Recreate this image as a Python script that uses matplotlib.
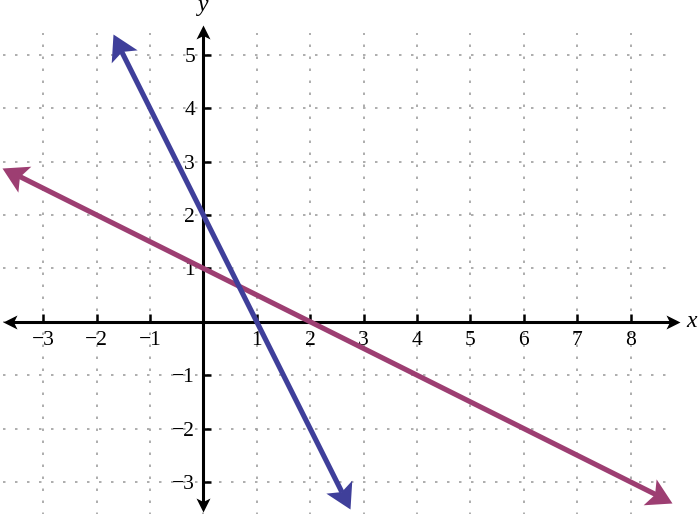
import matplotlib
matplotlib.use("Agg")
import matplotlib.pyplot as plt
from matplotlib.markers import MarkerStyle
from matplotlib.path import Path
from matplotlib.transforms import Affine2D
import numpy as np

# Data
x_ticks = [-3, -2, -1, 1, 2, 3, 4, 5, 6, 7, 8]
y_ticks = [-3, -2, -1, 1, 2, 3, 4, 5]
grid_x = list(range(-3, 9))
grid_y = list(range(-3, 6))
# line 1: y = -2x + 2 (blue), line 2: y = -x/2 + 1 (magenta)
blue_x = [-1.69, 2.75]
blue_slope, blue_icpt = -2.0, 2.0
mag_x = [-3.77, 8.78]
mag_slope, mag_icpt = -0.5, 1.0
xaxis_ends = [-3.76, 8.92]
yaxis_ends = [-3.57, 5.56]

BLUE = "#3f3f9a"
MAG = "#9d3e72"

plt.rcParams['font.family'] = ['Liberation Serif', 'DejaVu Serif']
fig = plt.figure(figsize=(7.0, 5.14), dpi=100)
ax = fig.add_axes([0, 0, 1, 1])
ax.set_xlim(-3.807, 9.30)
ax.set_ylim(-3.60, 6.024)


def make_head(half_w, notch):
    return Path([(0, 0), (-1, half_w), (-notch, 0), (-1, -half_w), (0, 0)],
                [Path.MOVETO, Path.LINETO, Path.LINETO, Path.LINETO, Path.CLOSEPOLY])


def arrow_line(p0, p1, color, lw, head_px, half_w, notch, z):
    """Draw a line from p0 to p1 (data) with stealth heads at both ends."""
    head_path = make_head(half_w, notch)
    d0 = ax.transData.transform(p0)
    d1 = ax.transData.transform(p1)
    v = d1 - d0
    u = v / np.hypot(*v)
    ang = np.degrees(np.arctan2(u[1], u[0]))
    cut = (notch - 0.05) * head_px
    inv = ax.transData.inverted()
    a = inv.transform(d0 + u * cut)
    b = inv.transform(d1 - u * cut)
    ax.plot([a[0], b[0]], [a[1], b[1]], color=color, lw=lw,
            solid_capstyle='butt', zorder=z)
    ms = head_px / 100 * 72 * 2
    for pt, an in [(p1, ang), (p0, ang + 180)]:
        m = MarkerStyle(head_path, transform=Affine2D().rotate_deg(an))
        ax.plot([pt[0]], [pt[1]], marker=m, markersize=ms, color=color,
                markeredgewidth=0, linestyle='none', zorder=z)


# grid
ax.hlines(grid_y, -3.75, 8.7, colors="#a0a0a0", linewidth=1.2,
          linestyles=(0, (1.5, 5.7)), zorder=1)
ax.vlines(grid_x, -3.7, 5.4, colors="#a0a0a0", linewidth=1.2,
          linestyles=(0, (1.5, 5.7)), zorder=1)

# axes
arrow_line((xaxis_ends[0], 0), (xaxis_ends[1], 0), "black", 2.2, 14, 0.5, 0.75, 3)
arrow_line((0, yaxis_ends[0]), (0, yaxis_ends[1]), "black", 2.2, 14, 0.5, 0.75, 3)

for s in ax.spines.values():
    s.set_color("none")
ax.spines['bottom'].set_position(('data', 0))
ax.spines['left'].set_position(('data', 0))

ax.set_xticks(x_ticks)
ax.set_xticklabels([f"\u2212{-v}" if v < 0 else str(v) for v in x_ticks])
ax.set_yticks(y_ticks)
ax.set_yticklabels([f"\u2212{-v}" if v < 0 else str(v) for v in y_ticks])
ax.tick_params(axis='x', direction='in', length=5.8, width=1.8, pad=7,
               labelsize=15.5, top=False, labelfontfamily='Liberation Serif')
ax.tick_params(axis='y', direction='in', length=5.8, width=1.8, pad=6,
               labelsize=15.5, right=False, labelfontfamily='Liberation Serif')
for t in ax.get_xticklabels() + ax.get_yticklabels():
    t.set_zorder(4)

# lines with arrows
for xs, m, b, col in [(mag_x, mag_slope, mag_icpt, MAG),
                      (blue_x, blue_slope, blue_icpt, BLUE)]:
    ys = [m * v + b for v in xs]
    arrow_line((xs[0], ys[0]), (xs[1], ys[1]), col, 3.7, 25, 0.58, 0.78, 5)

ax.text(9.04, 0, "x", style='italic', fontsize=17, va='center', ha='left',
        family='Liberation Serif')
ax.text(0, 5.93, "y", style='italic', fontsize=17, va='center', ha='center',
        family='Liberation Serif')

fig.savefig("out.png", dpi=100)
